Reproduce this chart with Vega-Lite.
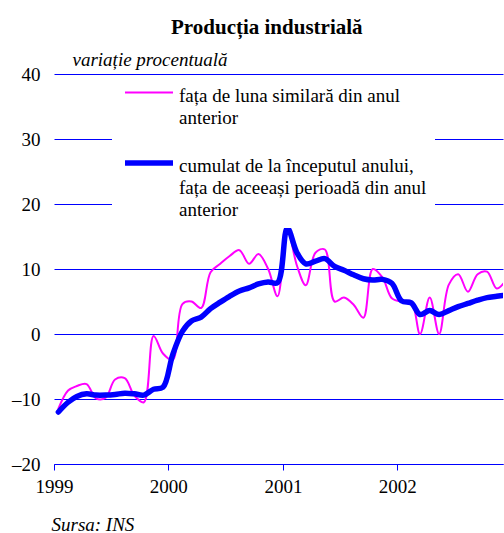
{
  "$schema": "https://vega.github.io/schema/vega-lite/v6.json",
  "autosize": "none",
  "width": 449,
  "height": 390,
  "padding": {"left": 54, "top": 74, "right": 1, "bottom": 69},
  "background": "white",
  "title": {
    "text": "Producția industrială",
    "font": "Liberation Serif",
    "fontSize": 21,
    "fontWeight": "bold",
    "color": "black",
    "anchor": "start",
    "frame": "group",
    "dx": 117,
    "baseline": "alphabetic",
    "offset": -5
  },
  "data": {
    "values": [
      {"d": "1999-01-15", "lunar": -11.5, "cumulat": -12.0},
      {"d": "1999-02-15", "lunar": -8.7, "cumulat": -10.5},
      {"d": "1999-03-15", "lunar": -8.0, "cumulat": -9.6},
      {"d": "1999-04-15", "lunar": -7.7, "cumulat": -9.2},
      {"d": "1999-05-15", "lunar": -9.9, "cumulat": -9.4},
      {"d": "1999-06-15", "lunar": -9.8, "cumulat": -9.4},
      {"d": "1999-07-15", "lunar": -7.0, "cumulat": -9.3},
      {"d": "1999-08-15", "lunar": -6.8, "cumulat": -9.1},
      {"d": "1999-09-15", "lunar": -9.5, "cumulat": -9.2},
      {"d": "1999-10-15", "lunar": -10.5, "cumulat": -9.4},
      {"d": "1999-11-15", "lunar": -0.3, "cumulat": -8.5},
      {"d": "1999-12-15", "lunar": -3.0, "cumulat": -8.2},
      {"d": "2000-01-15", "lunar": -4.0, "cumulat": -3.2},
      {"d": "2000-02-15", "lunar": 4.6, "cumulat": 0.4},
      {"d": "2000-03-15", "lunar": 5.0, "cumulat": 2.0},
      {"d": "2000-04-15", "lunar": 4.0, "cumulat": 2.6},
      {"d": "2000-05-15", "lunar": 9.5, "cumulat": 3.9},
      {"d": "2000-06-15", "lunar": 10.8, "cumulat": 4.9},
      {"d": "2000-07-15", "lunar": 12.0, "cumulat": 5.8},
      {"d": "2000-08-15", "lunar": 12.9, "cumulat": 6.6},
      {"d": "2000-09-15", "lunar": 10.8, "cumulat": 7.1},
      {"d": "2000-10-15", "lunar": 12.3, "cumulat": 7.7},
      {"d": "2000-11-15", "lunar": 10.0, "cumulat": 8.0},
      {"d": "2000-12-15", "lunar": 5.8, "cumulat": 7.9},
      {"d": "2001-01-15", "lunar": 16.2, "cumulat": 16.3},
      {"d": "2001-02-15", "lunar": 10.5, "cumulat": 12.5},
      {"d": "2001-03-15", "lunar": 7.5, "cumulat": 10.8},
      {"d": "2001-04-15", "lunar": 12.5, "cumulat": 11.2},
      {"d": "2001-05-15", "lunar": 13.0, "cumulat": 11.6},
      {"d": "2001-06-15", "lunar": 5.0, "cumulat": 10.4},
      {"d": "2001-07-15", "lunar": 5.6, "cumulat": 9.8},
      {"d": "2001-08-15", "lunar": 4.5, "cumulat": 9.1},
      {"d": "2001-09-15", "lunar": 2.5, "cumulat": 8.5},
      {"d": "2001-10-15", "lunar": 10.0, "cumulat": 8.3},
      {"d": "2001-11-15", "lunar": 8.7, "cumulat": 8.4},
      {"d": "2001-12-15", "lunar": 5.5, "cumulat": 7.8},
      {"d": "2002-01-15", "lunar": 5.0, "cumulat": 5.1},
      {"d": "2002-02-15", "lunar": 5.0, "cumulat": 4.8},
      {"d": "2002-03-15", "lunar": 0.0, "cumulat": 3.0},
      {"d": "2002-04-15", "lunar": 5.6, "cumulat": 3.6},
      {"d": "2002-05-15", "lunar": 0.0, "cumulat": 3.0},
      {"d": "2002-06-15", "lunar": 7.6, "cumulat": 3.6},
      {"d": "2002-07-15", "lunar": 9.2, "cumulat": 4.2},
      {"d": "2002-08-15", "lunar": 6.5, "cumulat": 4.7},
      {"d": "2002-09-15", "lunar": 9.2, "cumulat": 5.2},
      {"d": "2002-10-15", "lunar": 9.6, "cumulat": 5.6},
      {"d": "2002-11-15", "lunar": 7.0, "cumulat": 5.8},
      {"d": "2002-12-15", "lunar": 8.3, "cumulat": 6.0}
    ]
  },
  "transform": [{"fold": ["lunar", "cumulat"], "as": ["serie", "valoare"]}],
  "mark": {"type": "line", "interpolate": "catmull-rom", "clip": true, "strokeCap": "round", "strokeJoin": "round"},
  "encoding": {
    "x": {
      "field": "d",
      "type": "temporal",
      "scale": {"type": "utc", "domain": [{"year": 1999, "month": 1, "date": 1, "utc": true}, {"year": 2002, "month": 12, "date": 5, "utc": true}]},
      "axis": {
        "title": "Sursa: INS",
        "titleFont": "Liberation Serif",
        "titleFontSize": 19,
        "titleFontStyle": "italic",
        "titleFontWeight": "normal",
        "titleColor": "black",
        "titleAnchor": "start",
        "titleAlign": "left",
        "titleBaseline": "alphabetic",
        "titleX": -3,
        "titleY": 66,
        "values": [{"year": 1999, "month": 1, "date": 1, "utc": true}, {"year": 2000, "month": 1, "date": 1, "utc": true}, {"year": 2001, "month": 1, "date": 1, "utc": true}, {"year": 2002, "month": 1, "date": 1, "utc": true}],
        "format": "%Y",
        "formatType": "utc",
        "grid": false,
        "domainColor": "#0000ff",
        "domainWidth": 1,
        "tickColor": "#0000ff",
        "tickSize": 6,
        "labelFont": "Liberation Serif",
        "labelFontSize": 19,
        "labelColor": "black",
        "labelPadding": 7,
        "labelDx": 5,
        "labelFlush": false
      }
    },
    "y": {
      "field": "valoare",
      "type": "quantitative",
      "scale": {"domain": [-20, 40], "nice": false, "zero": false},
      "axis": {
        "title": "variație procentuală",
        "titleFont": "Liberation Serif",
        "titleFontSize": 19,
        "titleFontStyle": "italic",
        "titleFontWeight": "normal",
        "titleColor": "black",
        "titleAngle": 0,
        "titleAlign": "left",
        "titleBaseline": "alphabetic",
        "titleX": 18,
        "titleY": -9,
        "values": [-20, -10, 0, 10, 20, 30, 40],
        "labelExpr": "datum.value < 0 ? '–' + abs(datum.value) : '' + datum.value",
        "domain": false,
        "ticks": false,
        "grid": true,
        "gridColor": "#0000ff",
        "gridOpacity": 1,
        "gridWidth": 1,
        "labelFont": "Liberation Serif",
        "labelFontSize": 19,
        "labelColor": "black",
        "labelPadding": 14
      }
    },
    "color": {
      "field": "serie",
      "type": "nominal",
      "scale": {"domain": ["lunar", "cumulat"], "range": ["#ff00ff", "#0000ff"]},
      "legend": {
        "orient": "none",
        "legendX": 58,
        "legendY": 1,
        "title": null,
        "fillColor": "white",
        "padding": 8,
        "symbolType": "M-3,0H3",
        "symbolSize": 256,
        "symbolOffset": 18,
        "labelOffset": 19,
        "rowPadding": 24,
        "labelFont": "Liberation Serif",
        "labelFontSize": 19,
        "labelColor": "black",
        "labelLimit": 400,
        "labelBaseline": "middle",
        "labelExpr": "datum.value == 'lunar' ? ['fața de luna similară din anul', 'anterior'] : ['cumulat de la începutul anului,', 'fața de aceeași perioadă din anul', 'anterior']",
        "encode": {"labels": {"update": {"lineHeight": {"value": 22}, "dy": {"value": 3}}}}
      }
    },
    "strokeWidth": {
      "field": "serie",
      "type": "nominal",
      "scale": {"domain": ["lunar", "cumulat"], "range": [2, 5.5]},
      "legend": null
    }
  },
  "config": {"view": {"stroke": null}, "font": "Liberation Serif", "axis": {"gridColor": "#0000ff"}}
}
